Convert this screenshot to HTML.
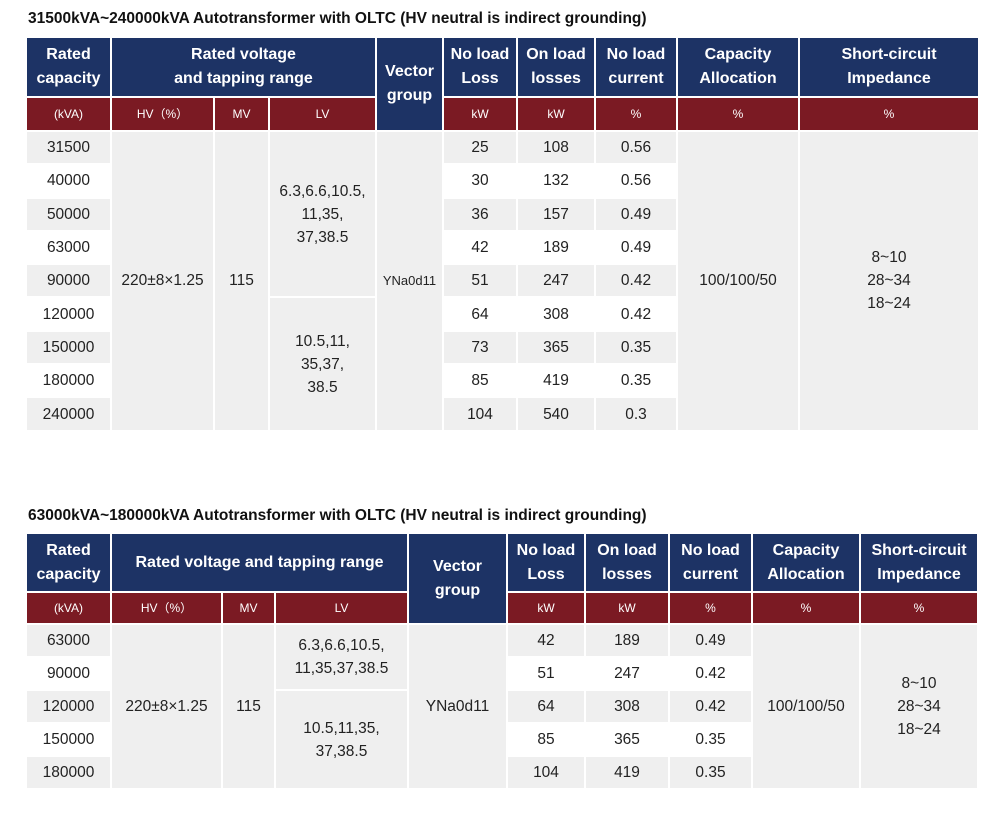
<!DOCTYPE html>
<html><head><meta charset="utf-8"><style>
body{margin:0;width:1000px;height:823px;background:#fff;font-family:"Liberation Sans",sans-serif;position:relative;overflow:hidden}
.t{position:absolute;left:28px;font-weight:bold;font-size:15.5px;color:#111}
.g{position:absolute;left:27px;display:grid;gap:2px}
.g div{display:flex;align-items:center;justify-content:center;text-align:center;color:#222;font-size:15.5px;line-height:23px}
.g .b{background:#1d3365;color:#fff;font-weight:bold;font-size:16px;line-height:24px}
.g .r{background:#7b1a23;color:#fff;font-size:12px}
.g .s{background:#efefef}
.g .w{background:#fff}
</style></head><body>
<div class="t" style="top:10px">31500kVA~240000kVA Autotransformer with OLTC (HV neutral is indirect grounding)</div>
<div class="g" style="top:38px;grid-template-columns:83px 101px 53px 105px 65px 72px 76px 80px 120px 178px;grid-template-rows:58px 32px repeat(9,31.3px)">
<div class="b">Rated<br>capacity</div>
<div class="b" style="grid-column:2/5">Rated voltage<br>and tapping range</div>
<div class="b" style="grid-column:5;grid-row:1/3">Vector<br>group</div>
<div class="b">No load<br>Loss</div><div class="b">On load<br>losses</div><div class="b">No load<br>current</div><div class="b">Capacity<br>Allocation</div><div class="b">Short-circuit<br>Impedance</div>
<div class="r" style="grid-column:1;grid-row:2">(kVA)</div><div class="r" style="grid-column:2;grid-row:2">HV（%）</div><div class="r" style="grid-column:3;grid-row:2">MV</div><div class="r" style="grid-column:4;grid-row:2">LV</div>
<div class="r" style="grid-column:6;grid-row:2">kW</div><div class="r" style="grid-column:7;grid-row:2">kW</div><div class="r" style="grid-column:8;grid-row:2">%</div><div class="r" style="grid-column:9;grid-row:2">%</div><div class="r" style="grid-column:10;grid-row:2">%</div>
<div class="s" style="grid-column:2;grid-row:3/12">220±8×1.25</div>
<div class="s" style="grid-column:3;grid-row:3/12">115</div>
<div class="s" style="grid-column:4;grid-row:3/8">6.3,6.6,10.5,<br>11,35,<br>37,38.5</div>
<div class="s" style="grid-column:4;grid-row:8/12">10.5,11,<br>35,37,<br>38.5</div>
<div class="s" style="grid-column:5;grid-row:3/12;font-size:13px">YNa0d11</div>
<div class="s" style="grid-column:9;grid-row:3/12">100/100/50</div>
<div class="s" style="grid-column:10;grid-row:3/12">8~10<br>28~34<br>18~24</div>
<div class="s" style="grid-column:1;grid-row:3">31500</div><div class="s" style="grid-column:6;grid-row:3">25</div><div class="s" style="grid-column:7;grid-row:3">108</div><div class="s" style="grid-column:8;grid-row:3">0.56</div>
<div class="w" style="grid-column:1;grid-row:4">40000</div><div class="w" style="grid-column:6;grid-row:4">30</div><div class="w" style="grid-column:7;grid-row:4">132</div><div class="w" style="grid-column:8;grid-row:4">0.56</div>
<div class="s" style="grid-column:1;grid-row:5">50000</div><div class="s" style="grid-column:6;grid-row:5">36</div><div class="s" style="grid-column:7;grid-row:5">157</div><div class="s" style="grid-column:8;grid-row:5">0.49</div>
<div class="w" style="grid-column:1;grid-row:6">63000</div><div class="w" style="grid-column:6;grid-row:6">42</div><div class="w" style="grid-column:7;grid-row:6">189</div><div class="w" style="grid-column:8;grid-row:6">0.49</div>
<div class="s" style="grid-column:1;grid-row:7">90000</div><div class="s" style="grid-column:6;grid-row:7">51</div><div class="s" style="grid-column:7;grid-row:7">247</div><div class="s" style="grid-column:8;grid-row:7">0.42</div>
<div class="w" style="grid-column:1;grid-row:8">120000</div><div class="w" style="grid-column:6;grid-row:8">64</div><div class="w" style="grid-column:7;grid-row:8">308</div><div class="w" style="grid-column:8;grid-row:8">0.42</div>
<div class="s" style="grid-column:1;grid-row:9">150000</div><div class="s" style="grid-column:6;grid-row:9">73</div><div class="s" style="grid-column:7;grid-row:9">365</div><div class="s" style="grid-column:8;grid-row:9">0.35</div>
<div class="w" style="grid-column:1;grid-row:10">180000</div><div class="w" style="grid-column:6;grid-row:10">85</div><div class="w" style="grid-column:7;grid-row:10">419</div><div class="w" style="grid-column:8;grid-row:10">0.35</div>
<div class="s" style="grid-column:1;grid-row:11">240000</div><div class="s" style="grid-column:6;grid-row:11">104</div><div class="s" style="grid-column:7;grid-row:11">540</div><div class="s" style="grid-column:8;grid-row:11">0.3</div>
</div>

<div class="t" style="top:507px">63000kVA~180000kVA Autotransformer with OLTC (HV neutral is indirect grounding)</div>
<div class="g" style="top:534px;grid-template-columns:83px 109px 51px 131px 97px 76px 82px 81px 106px 116px;grid-template-rows:57px 30px repeat(5,31px)">
<div class="b">Rated<br>capacity</div>
<div class="b" style="grid-column:2/5">Rated voltage and tapping range</div>
<div class="b" style="grid-column:5;grid-row:1/3">Vector<br>group</div>
<div class="b">No load<br>Loss</div><div class="b">On load<br>losses</div><div class="b">No load<br>current</div><div class="b">Capacity<br>Allocation</div><div class="b">Short-circuit<br>Impedance</div>
<div class="r" style="grid-column:1;grid-row:2">(kVA)</div><div class="r" style="grid-column:2;grid-row:2">HV（%）</div><div class="r" style="grid-column:3;grid-row:2">MV</div><div class="r" style="grid-column:4;grid-row:2">LV</div>
<div class="r" style="grid-column:6;grid-row:2">kW</div><div class="r" style="grid-column:7;grid-row:2">kW</div><div class="r" style="grid-column:8;grid-row:2">%</div><div class="r" style="grid-column:9;grid-row:2">%</div><div class="r" style="grid-column:10;grid-row:2">%</div>
<div class="s" style="grid-column:2;grid-row:3/8">220±8×1.25</div>
<div class="s" style="grid-column:3;grid-row:3/8">115</div>
<div class="s" style="grid-column:4;grid-row:3/5">6.3,6.6,10.5,<br>11,35,37,38.5</div>
<div class="s" style="grid-column:4;grid-row:5/8">10.5,11,35,<br>37,38.5</div>
<div class="s" style="grid-column:5;grid-row:3/8">YNa0d11</div>
<div class="s" style="grid-column:9;grid-row:3/8">100/100/50</div>
<div class="s" style="grid-column:10;grid-row:3/8">8~10<br>28~34<br>18~24</div>
<div class="s" style="grid-column:1;grid-row:3">63000</div><div class="s" style="grid-column:6;grid-row:3">42</div><div class="s" style="grid-column:7;grid-row:3">189</div><div class="s" style="grid-column:8;grid-row:3">0.49</div>
<div class="w" style="grid-column:1;grid-row:4">90000</div><div class="w" style="grid-column:6;grid-row:4">51</div><div class="w" style="grid-column:7;grid-row:4">247</div><div class="w" style="grid-column:8;grid-row:4">0.42</div>
<div class="s" style="grid-column:1;grid-row:5">120000</div><div class="s" style="grid-column:6;grid-row:5">64</div><div class="s" style="grid-column:7;grid-row:5">308</div><div class="s" style="grid-column:8;grid-row:5">0.42</div>
<div class="w" style="grid-column:1;grid-row:6">150000</div><div class="w" style="grid-column:6;grid-row:6">85</div><div class="w" style="grid-column:7;grid-row:6">365</div><div class="w" style="grid-column:8;grid-row:6">0.35</div>
<div class="s" style="grid-column:1;grid-row:7">180000</div><div class="s" style="grid-column:6;grid-row:7">104</div><div class="s" style="grid-column:7;grid-row:7">419</div><div class="s" style="grid-column:8;grid-row:7">0.35</div>
</div>
</body></html>
